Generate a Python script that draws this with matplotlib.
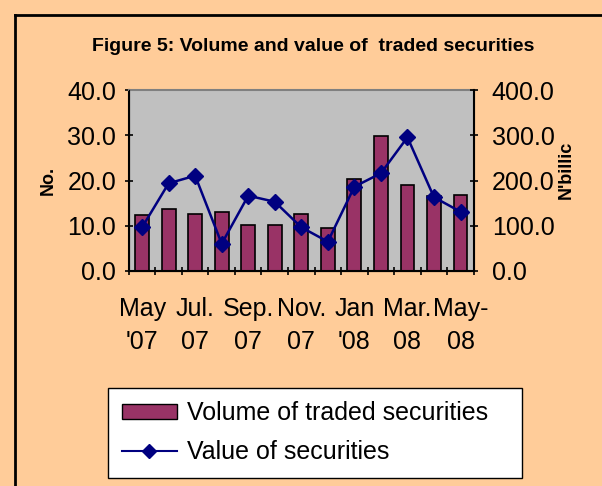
import numpy as np
import matplotlib.pyplot as plt
from matplotlib.lines import Line2D

months = ["May\n'07", "", "Jul.\n07", "", "Sep.\n07", "", "Nov.\n07", "",
          "Jan\n'08", "", "Mar.\n08", "", "May-\n08"]
volume = [12.4, 13.6, 12.7, 13.1, 10.1, 10.1, 12.7, 9.6, 20.3, 29.9, 18.9, 16.5, 16.7]
value = [96.6, 193.8, 210.6, 60.3, 166.4, 153.0, 96.6, 64.8, 186.3, 216.0, 295.5, 163.0, 131.0]

plt.rcParams['font.family'] = ['Liberation Sans', 'DejaVu Sans']

fig = plt.figure(figsize=(6.02, 4.86), dpi=100, facecolor='#FFCC99')
ax = fig.add_axes([0.214, 0.4424, 0.573, 0.3724])
ax.set_facecolor('#C0C0C0')

x = np.arange(len(volume))
ax.bar(x, volume, width=0.52, color='#993366', edgecolor='black', linewidth=1.2, zorder=2)
ax.set_xlim(-0.5, len(volume) - 0.5)
ax.set_ylim(0, 40)
ax.set_yticks([0, 10, 20, 30, 40])
ax.set_yticklabels(['%.1f' % v for v in [0, 10, 20, 30, 40]], fontsize=18)
ax.set_xticks(x)
ax.set_xticklabels(months, fontsize=18, linespacing=1.45)
ax.tick_params(axis='x', length=0, pad=19)
ax.set_xticks(np.arange(-0.5, len(volume)), minor=True)
ax.tick_params(axis='x', which='minor', length=6, width=1.2, direction='inout')
ax.tick_params(axis='y', length=6, width=1.2, direction='inout', pad=6)
for s in ['top', 'right']:
    ax.spines[s].set_color('#808080')
ax.spines['top'].set_linewidth(1.5)
ax.spines['left'].set_linewidth(1.5)
ax.spines['bottom'].set_linewidth(1.5)
ax.set_ylabel('No.', fontsize=13, fontweight='bold', labelpad=8)

ax2 = ax.twinx()
ax2.plot(x, value, color='#000080', marker='D', markersize=8, linewidth=1.8, zorder=3)
ax2.set_ylim(0, 400)
ax2.set_yticks([0, 100, 200, 300, 400])
ax2.set_yticklabels(['%.1f' % v for v in [0, 100, 200, 300, 400]], fontsize=18)
ax2.tick_params(axis='y', length=6, width=1.2, direction='inout', pad=10)
ax2.spines['right'].set_color('black')
ax2.spines['right'].set_linewidth(1.5)
ax2.spines['top'].set_visible(False)
fig.text(0.94, 0.65, "N'billic", rotation=90, fontsize=13, fontweight='bold',
         ha='center', va='center')

fig.text(0.52, 0.905, 'Figure 5: Volume and value of  traded securities',
         fontsize=14, fontweight='bold', ha='center', va='center')

handles = [plt.Rectangle((0, 0), 1, 1, facecolor='#993366', edgecolor='black'),
           Line2D([], [], color='#000080', marker='D', markersize=7, linewidth=1.5)]
leg = fig.legend(handles, ['Volume of traded securities', 'Value of securities'],
                 loc='lower left', bbox_to_anchor=(108 / 602, 1 - 478 / 486, 414 / 602, 86 / 486),
                 mode='expand', borderaxespad=0, fontsize=18, frameon=True, fancybox=False,
                 framealpha=1, facecolor='white', handlelength=2.2, handleheight=0.55,
                 handletextpad=0.4, borderpad=0.55, labelspacing=0.6)
leg.get_frame().set_edgecolor('black')
leg.get_frame().set_linewidth(1.0)

fig.add_artist(Line2D([15 / 602, 15 / 602], [0, 1 - 15 / 486], color='black', linewidth=2,
                      transform=fig.transFigure))
fig.add_artist(Line2D([15 / 602, 1], [1 - 15 / 486, 1 - 15 / 486], color='black', linewidth=2,
                      transform=fig.transFigure))

fig.savefig('out.png', dpi=100, facecolor=fig.get_facecolor())
